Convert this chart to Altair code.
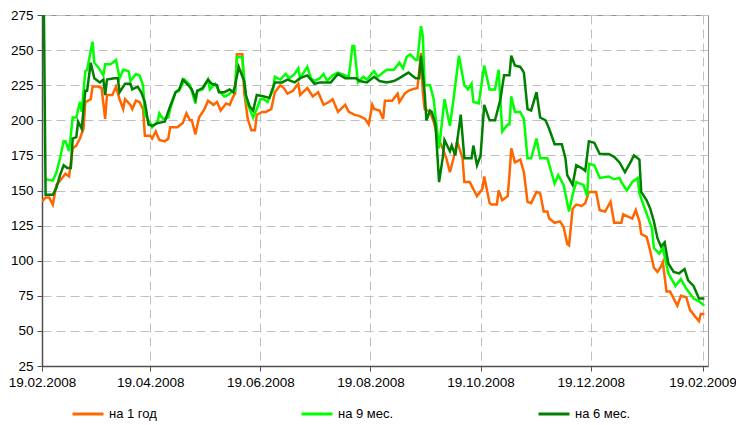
import altair as alt
import pandas as pd

START = "2008-02-19"
series_names = ["на 1 год", "на 9 мес.", "на 6 мес."]
series_colors = ["#FF6600", "#00FF00", "#008000"]

tick_dates = ["2008-02-19", "2008-04-19", "2008-06-19", "2008-08-19",
              "2008-10-19", "2008-12-19", "2009-02-19"]
y_ticks = [25, 50, 75, 100, 125, 150, 175, 200, 225, 250, 275]

# day offsets from 19.02.2008 and values
y1_days = [0, 2, 4, 6, 8, 10, 13, 15, 17, 19, 21, 23, 24, 27, 28, 31, 33, 35, 36, 39, 41, 43, 45, 46, 49, 50, 52, 54, 56, 57,
           60, 61, 63, 65, 68, 70, 71, 75, 78, 80, 82, 83, 85, 87, 90, 92, 95, 97, 99, 102, 104, 106, 107, 108, 111, 112, 114, 116, 118, 119,
           122, 124, 127, 129, 132, 134, 136, 139, 142, 143, 147, 150, 153, 156, 159, 161, 164, 168, 170, 173, 176, 179, 181, 183, 184, 187, 189, 190, 194, 197,
           198, 201, 203, 205, 208, 210, 211, 212, 215, 217, 219, 222, 224, 226, 228, 230, 233, 234, 237, 239, 241, 244, 245, 248, 249, 252, 253, 255, 258, 259,
           260, 262, 265, 267, 269, 271, 274, 276, 278, 280, 281, 284, 287, 289, 291, 292, 294, 296, 299, 301, 303, 307, 309, 312, 315, 317, 321, 322, 327, 329,
           331, 332, 335, 337, 339, 341, 343, 344, 346, 348, 350, 352, 354, 357, 359, 362, 364, 365, 367]
y1_vals = [142, 145, 145, 140, 154, 157, 162, 160, 180, 182, 187, 194, 213, 215, 224, 224, 223, 201, 218, 218, 224, 215, 208, 215, 211, 208, 214, 213, 208, 189,
           189, 187, 192, 186, 185, 187, 195, 195, 198, 205, 200, 200, 190, 202, 208, 214, 211, 213, 207, 212, 211, 217, 219, 247, 247, 220, 201, 193, 193, 204,
           206, 206, 208, 220, 225, 223, 219, 221, 226, 218, 223, 217, 220, 211, 213, 215, 206, 211, 206, 204, 203, 201, 197, 211, 208, 207, 201, 214, 214, 219,
           213, 219, 221, 222, 223, 248, 220, 208, 206, 199, 189, 180, 173, 163, 173, 185, 173, 156, 156, 151, 146, 151, 160, 141, 140, 140, 150, 143, 146, 161,
           180, 170, 172, 163, 142, 141, 149, 148, 135, 135, 130, 127, 128, 124, 112, 111, 137, 140, 139, 141, 149, 149, 136, 135, 142, 127, 127, 133, 130, 136,
           128, 119, 117, 107, 95, 92, 96, 99, 78, 78, 73, 68, 75, 74, 65, 60, 57, 62, 62]

y9_days = [2, 6, 8, 10, 12, 13, 15, 17, 19, 21, 22, 24, 25, 28, 29, 31, 34, 35, 38, 41, 43, 45, 48, 49, 52, 54, 56, 57, 60, 61,
           64, 65, 67, 70, 71, 74, 76, 79, 82, 85, 86, 89, 92, 93, 96, 98, 101, 103, 106, 107, 108, 111, 113, 115, 117, 119, 121, 123, 125, 128,
           129, 132, 135, 137, 140, 142, 143, 147, 149, 151, 154, 156, 158, 161, 164, 168, 170, 172, 173, 175, 178, 180, 184, 186, 189, 191, 195, 198, 200, 202,
           204, 207, 208, 210, 211, 212, 215, 217, 219, 220, 223, 226, 228, 231, 234, 236, 238, 239, 242, 245, 248, 251, 253, 255, 258, 259, 260, 262, 265, 267,
           269, 271, 274, 276, 280, 284, 286, 289, 292, 294, 296, 300, 302, 303, 306, 309, 314, 317, 320, 321, 324, 327, 330, 331, 334, 336, 338, 339, 342, 344,
           347, 351, 354, 357, 361, 364, 367]
y9_vals = [158, 157, 163, 173, 185, 185, 178, 202, 202, 213, 206, 235, 236, 256, 241, 238, 232, 240, 240, 243, 230, 236, 235, 228, 233, 232, 225, 204, 198, 195,
           199, 205, 201, 202, 208, 220, 221, 229, 225, 212, 221, 222, 229, 222, 226, 221, 217, 218, 221, 221, 245, 245, 215, 208, 202, 208, 215, 215, 213, 222,
           231, 229, 233, 230, 233, 237, 230, 238, 230, 228, 230, 233, 228, 232, 234, 232, 231, 253, 253, 227, 231, 229, 235, 231, 234, 236, 236, 241, 237, 245,
           247, 243, 243, 267, 260, 225, 225, 215, 192, 180, 215, 196, 215, 246, 225, 222, 226, 213, 212, 239, 222, 222, 236, 192, 197, 197, 217, 206, 206, 201,
           173, 173, 187, 173, 173, 155, 161, 154, 135, 147, 156, 154, 146, 169, 168, 159, 160, 158, 159, 156, 150, 156, 159, 148, 137, 130, 123, 109, 105, 109,
           91, 82, 87, 80, 73, 71, 68]

y6_days = [1, 2, 6, 8, 10, 12, 14, 16, 17, 19, 20, 22, 24, 25, 27, 29, 32, 34, 35, 36, 40, 42, 43, 46, 49, 50, 53, 55, 57, 59,
           61, 64, 68, 71, 74, 76, 78, 81, 83, 85, 86, 89, 92, 94, 97, 98, 101, 104, 106, 107, 109, 112, 113, 115, 117, 119, 123, 126, 129, 133,
           136, 140, 143, 147, 151, 154, 160, 164, 168, 174, 176, 180, 184, 187, 191, 195, 198, 203, 207, 209, 210, 212, 213, 215, 216, 218, 220, 222, 223, 226,
           227, 229, 232, 234, 238, 239, 241, 243, 245, 248, 251, 254, 256, 259, 260, 262, 265, 267, 269, 271, 274, 276, 279, 281, 284, 286, 288, 290, 291, 294,
           296, 299, 301, 303, 306, 309, 314, 317, 320, 323, 326, 328, 331, 332, 335, 337, 339, 341, 343, 345, 347, 350, 353, 356, 358, 361, 364, 367]
y6_vals = [285, 147, 147, 152, 161, 168, 166, 166, 187, 188, 199, 194, 221, 221, 241, 230, 227, 229, 218, 229, 230, 230, 220, 226, 226, 222, 224, 220, 213, 197,
           196, 198, 199, 210, 220, 222, 229, 225, 222, 215, 221, 223, 229, 226, 225, 220, 220, 222, 220, 225, 238, 228, 218, 210, 207, 218, 217, 216, 227, 227,
           229, 227, 230, 232, 226, 227, 227, 233, 230, 230, 228, 227, 231, 228, 227, 228, 230, 234, 230, 230, 246, 220, 200, 207, 206, 197, 156, 173, 186, 178,
           182, 175, 204, 173, 173, 182, 168, 175, 211, 200, 200, 215, 232, 232, 246, 239, 238, 234, 208, 207, 220, 202, 200, 194, 183, 183, 183, 173, 161, 154,
           168, 166, 164, 185, 184, 176, 176, 174, 170, 163, 170, 175, 172, 149, 143, 137, 128, 116, 110, 113, 98, 92, 91, 94, 86, 82, 73, 73]

start = pd.Timestamp(START)
frames = []
for name, days, vals in [(series_names[0], y1_days, y1_vals),
                         (series_names[1], y9_days, y9_vals),
                         (series_names[2], y6_days, y6_vals)]:
    frames.append(pd.DataFrame({
        "date": [start + pd.Timedelta(days=d) for d in days],
        "value": vals,
        "series": name,
    }))
df = pd.concat(frames, ignore_index=True)


def dt(s):
    t = pd.Timestamp(s)
    return alt.DateTime(year=t.year, month=t.month, date=t.day)


FONT = "Liberation Sans"

x_enc = alt.X(
    "date:T",
    scale=alt.Scale(domain=[dt("2008-02-19"), dt("2009-02-22")]),
    axis=alt.Axis(
        values=[dt(s) for s in tick_dates], format="%d.%m.%Y", title=None,
        labelFont=FONT, labelFontSize=13.5, labelColor="#000000", labelPadding=4,
        grid=True, gridDash=[9, 5], gridColor="#C0C0C0", gridWidth=1,
        domainColor="#505050", domainWidth=1.5, tickColor="#505050", tickSize=5,
        labelFlush=False, labelOverlap=False,
    ),
)
y_enc = alt.Y(
    "value:Q",
    scale=alt.Scale(domain=[25, 275], nice=False, zero=False),
    axis=alt.Axis(
        values=y_ticks, title=None,
        labelFont=FONT, labelFontSize=13.5, labelColor="#000000", labelPadding=4,
        grid=True, gridDash=[9, 5], gridColor="#C0C0C0", gridWidth=1,
        domainColor="#505050", domainWidth=1.5, tickColor="#505050", tickSize=5,
    ),
)
color_enc = alt.Color(
    "series:N",
    scale=alt.Scale(domain=series_names, range=series_colors),
    legend=alt.Legend(
        title=None, orient="none", legendX=29, legendY=382, direction="horizontal",
        gridAlign="each", columnPadding=138,
        symbolType="stroke", symbolSize=961, symbolStrokeWidth=3,
        labelFont=FONT, labelFontSize=13, labelColor="#000000", labelOffset=4,
    ),
)

layers = []
for name in series_names:
    layers.append(
        alt.Chart(df)
        .transform_filter(alt.datum.series == name)
        .mark_line(strokeWidth=2.5, clip=True, strokeJoin="miter")
        .encode(x=x_enc, y=y_enc, color=color_enc)
    )

chart = (
    alt.layer(*layers)
    .properties(
        width=666, height=351,
        autosize=alt.AutoSizeParams(type="none"),
        padding={"left": 34, "top": 7, "right": 28, "bottom": 58},
        background="#FFFFFF",
    )
    .configure_view(stroke="#909090", strokeWidth=1)
)

chart.save("out.html", embed_options={"renderer": "svg", "actions": False})
